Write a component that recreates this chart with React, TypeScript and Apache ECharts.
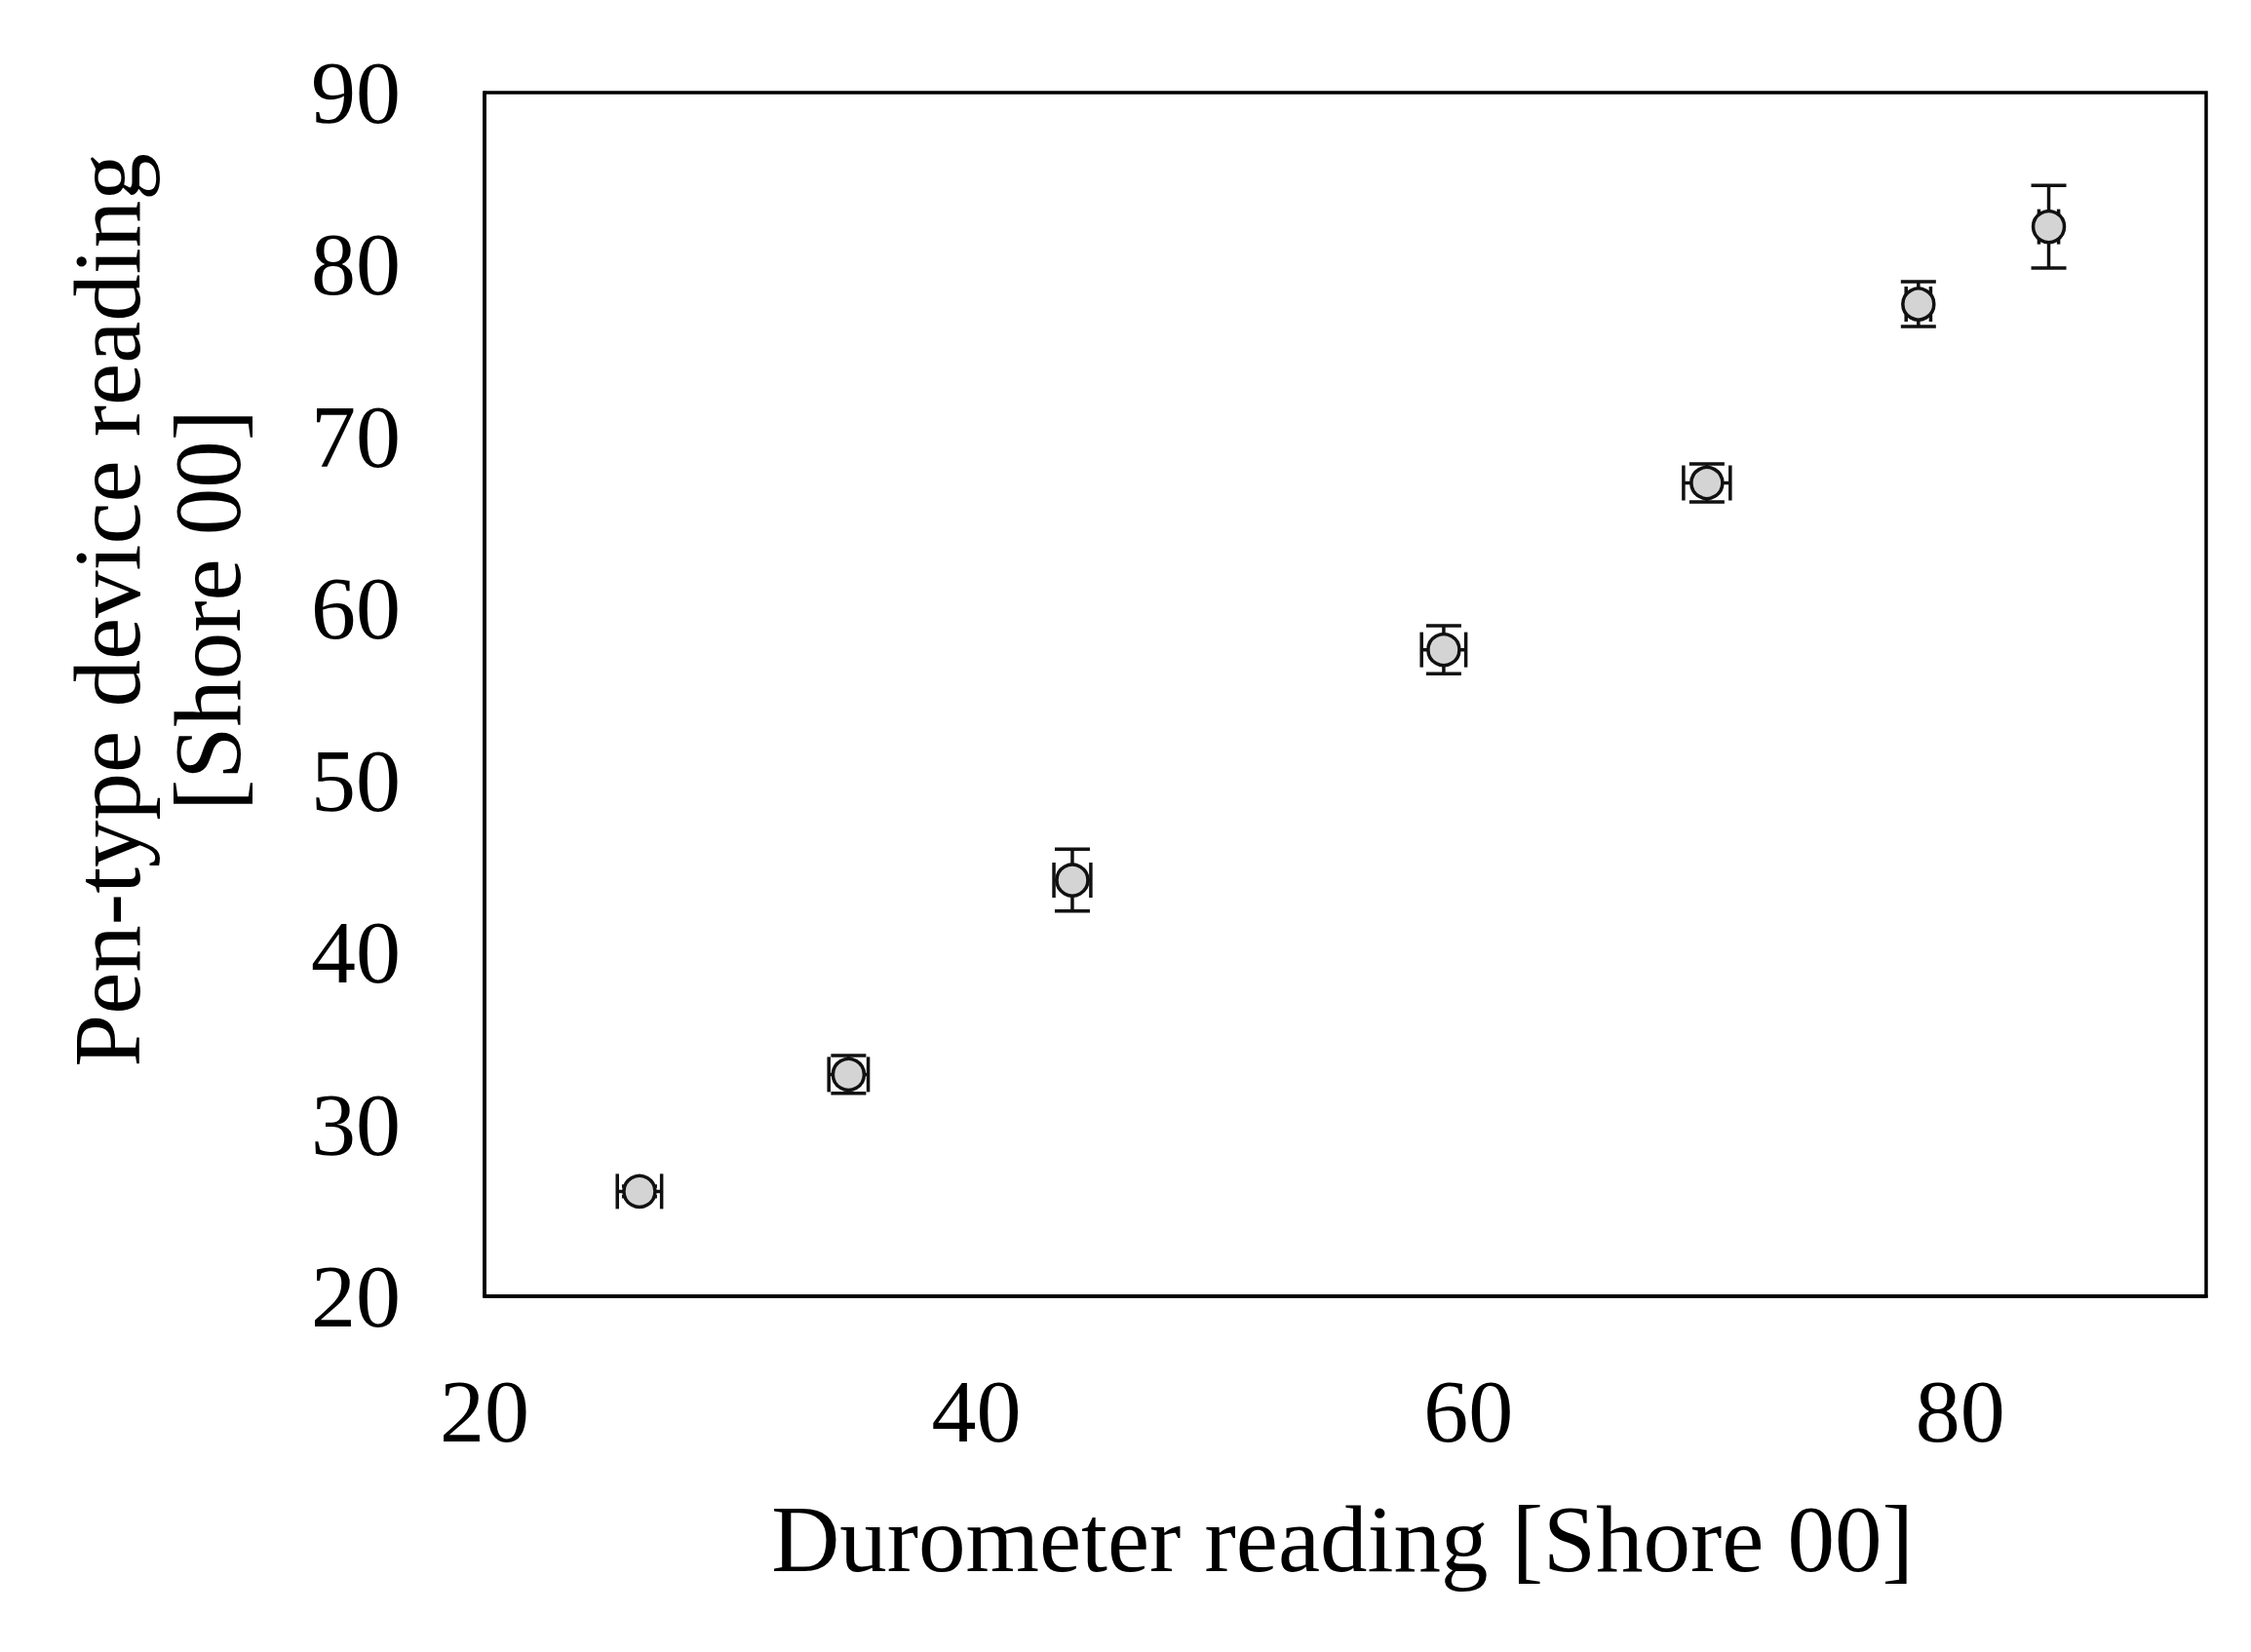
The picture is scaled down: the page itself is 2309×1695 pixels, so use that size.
import React, { useEffect, useRef } from "react";
import * as echarts from "echarts";

const durometer = [26.3, 34.8, 43.9, 59.0, 69.7, 78.3, 83.6];
const penDevice = [26.1, 32.9, 44.2, 57.6, 67.3, 77.7, 82.2];
const xErr = [0.9, 0.8, 0.75, 0.9, 0.95, 0.5, 0.4];
const yErr = [0.3, 1.1, 1.8, 1.4, 1.1, 1.3, 2.4];
const xTicks = [20, 40, 60, 80];
const yTicks = [20, 30, 40, 50, 60, 70, 80, 90];

const FONT = "'Liberation Serif', 'Times New Roman', serif";

export default function App() {
  const ref = useRef<HTMLDivElement>(null);
  useEffect(() => {
    if (!ref.current) return;
    const chart = echarts.init(ref.current, null, { renderer: "svg" });
    const pts = durometer.map((x, i) => [x, penDevice[i]]);
    const errData = durometer.map((x, i) => [x, penDevice[i], xErr[i], yErr[i]]);
    const cap = 18;
    chart.setOption({
      animation: false,
      backgroundColor: "#ffffff",
      grid: {
        left: 497,
        right: 46,
        top: 95,
        bottom: 365,
        show: true,
        borderColor: "#000",
        borderWidth: 3.5,
        backgroundColor: "transparent",
      },
      xAxis: {
        type: "value",
        min: 20,
        max: 90,
        interval: 20,
        axisLine: { show: true, lineStyle: { color: "#000", width: 3.5 } },
        axisTick: { show: false },
        splitLine: { show: false },
        axisLabel: {
          color: "#000",
          fontFamily: FONT,
          fontSize: 92,
          margin: 72,
          showMaxLabel: false,
          formatter: (v: number) => (xTicks.includes(v) ? String(v) : ""),
        },
      },
      yAxis: {
        type: "value",
        min: 20,
        max: 90,
        interval: 10,
        axisLine: { show: true, lineStyle: { color: "#000", width: 3.5 } },
        axisTick: { show: false },
        splitLine: { show: false },
        axisLabel: {
          color: "#000",
          fontFamily: FONT,
          fontSize: 92,
          margin: 86,
          formatter: (v: number) => (yTicks.includes(v) ? String(v) : ""),
        },
      },
      graphic: [
        {
          type: "text",
          x: 1377,
          y: 1579,
          style: {
            text: "Durometer reading [Shore 00]",
            fontFamily: FONT,
            fontSize: 97,
            fill: "#000",
            textAlign: "center",
            textVerticalAlign: "middle",
          },
        },
        {
          type: "text",
          x: 162,
          y: 626,
          rotation: Math.PI / 2,
          style: {
            text: "Pen-type device reading\n[Shore 00]",
            fontFamily: FONT,
            fontSize: 97,
            lineHeight: 103,
            fill: "#000",
            textAlign: "center",
            textVerticalAlign: "middle",
          },
        },
      ],
      series: [
        {
          type: "custom",
          data: errData,
          z: 1,
          renderItem: (params: any, api: any) => {
            const x = api.value(0);
            const y = api.value(1);
            const ex = api.value(2);
            const ey = api.value(3);
            const l = api.coord([x - ex, y]);
            const r = api.coord([x + ex, y]);
            const t = api.coord([x, y + ey]);
            const b = api.coord([x, y - ey]);
            const style = { stroke: "#111", lineWidth: 3.5 };
            return {
              type: "group",
              children: [
                { type: "line", shape: { x1: l[0], y1: l[1], x2: r[0], y2: r[1] }, style },
                { type: "line", shape: { x1: l[0], y1: l[1] - cap, x2: l[0], y2: l[1] + cap }, style },
                { type: "line", shape: { x1: r[0], y1: r[1] - cap, x2: r[0], y2: r[1] + cap }, style },
                { type: "line", shape: { x1: t[0], y1: t[1], x2: b[0], y2: b[1] }, style },
                { type: "line", shape: { x1: t[0] - cap, y1: t[1], x2: t[0] + cap, y2: t[1] }, style },
                { type: "line", shape: { x1: b[0] - cap, y1: b[1], x2: b[0] + cap, y2: b[1] }, style },
              ],
            };
          },
        },
        {
          type: "scatter",
          data: pts,
          z: 5,
          symbol: "circle",
          symbolSize: 32,
          itemStyle: { color: "#d4d4d4", borderColor: "#111", borderWidth: 3.5, opacity: 1 },
        },
      ],
    });
    return () => chart.dispose();
  }, []);
  return (
    <div
      ref={ref}
      style={{ position: "absolute", left: 0, top: 0, width: 2309, height: 1695, background: "#fff" }}
    />
  );
}
